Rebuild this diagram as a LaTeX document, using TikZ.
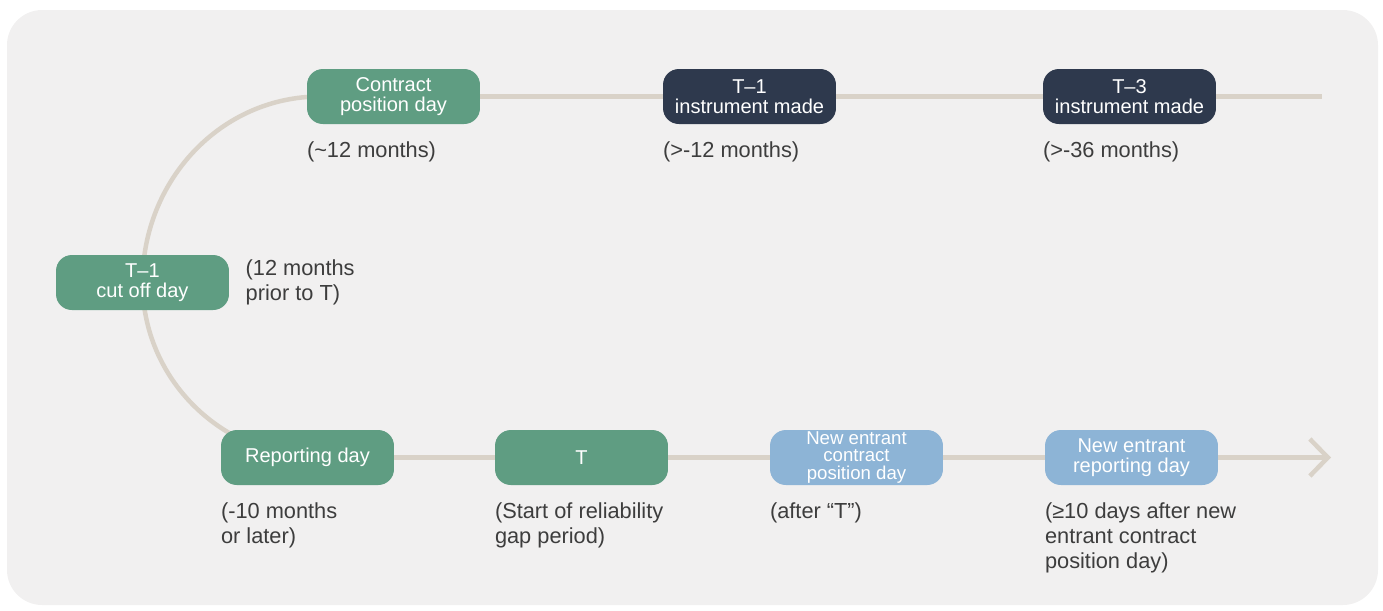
\documentclass[tikz,border=0pt]{standalone}
\usepackage{fontspec}
\setmainfont{Liberation Sans}
\usetikzlibrary{arrows.meta,positioning,backgrounds}
\definecolor{tlGreen}{HTML}{5F9D82}
\definecolor{tlNavy}{HTML}{2E394D}
\definecolor{tlBlue}{HTML}{8DB4D6}
\definecolor{tlTrack}{HTML}{D9D2C8}
\definecolor{tlPlate}{HTML}{F1F0F0}
\definecolor{tlText}{HTML}{3D3D3D}
\tikzset{
  track/.style={draw=tlTrack, line width=0.09cm},
  trackend/.style={track, -{Straight Barb[length=3.6mm,width=7.4mm]}},
  daybox/.style={rounded corners=9pt, minimum width=3.46cm, minimum height=1.1cm, inner sep=1pt, align=center, text=white, font=\fontsize{11.4}{11.6}\selectfont},
  greenbox/.style={daybox, fill=tlGreen},
  navybox/.style={daybox, fill=tlNavy},
  bluebox/.style={daybox, fill=tlBlue},
  note/.style={inner sep=0pt, align=left, text=tlText, font=\fontsize{12.4}{14.3}\selectfont},
  plate/.style={fill=tlPlate, rounded corners=20pt}
}

\begin{document}
\begin{tikzpicture}[x=0.02cm,y=-0.02cm]
  \useasboundingbox (0,0) rectangle (1383,610);
  % upper row
  \node[greenbox] (contract) at (393.5,96.5) {Contract\\position day};
  \node[navybox] (instA) at (749.5,96.5) {T--1\\instrument made};
  \node[navybox] (instB) at (1129.5,96.5) {T--3\\instrument made};
  \coordinate (topend) at (1322,96.5);
  % turning point
  \node[greenbox] (cutoff) at (142.5,282.5) {T--1\\cut off day};
  % lower row
  \node[greenbox] (reporting) at (307.5,457.5) {Reporting day};
  \node[greenbox] (gapstart) at (581.5,457.5) {T};
  \node[bluebox, inner sep=0pt, font=\fontsize{10.6}{10.1}\selectfont] (newcontract) at (856.5,457.5) {New entrant\\contract\\position day};
  \node[bluebox] (newreport) at (1131.5,457.5) {New entrant\\reporting day};
  \coordinate (botend) at (1331,457.5);
  % notes
  \node[note, below right=3.4mm and 0mm of contract.south west] (contractnote) {(\textasciitilde12 months)};
  \node[note, below right=3.4mm and 0mm of instA.south west] (instAnote) {(>-12 months)};
  \node[note, below right=3.4mm and 0mm of instB.south west] (instBnote) {(>-36 months)};
  \node[note, right=3.2mm of cutoff] (cutoffnote) {(12 months\\prior to T)};
  \node[note, below right=3.4mm and 0mm of reporting.south west] (reportingnote) {(-10 months\\or later)};
  \node[note, below right=3.4mm and 0mm of gapstart.south west] (gapnote) {(Start of reliability\\gap period)};
  \node[note, below right=3.4mm and 0mm of newcontract.south west] (newcontractnote) {(after “T”)};
  \node[note, below right=3.4mm and 0mm of newreport.south west] (newreportnote) {(≥10 days after new\\entrant contract\\position day)};
  \begin{scope}[on background layer]
    \path[plate] (7,10) rectangle (1378,605);
    \draw[track] (contract) -- (instA) -- (instB) -- (topend);
    \draw[track] (contract.center) -- ++(-73.5,0) .. controls +(-98.3,0) and +(0,-103) .. (cutoff.center) .. controls +(0,96.6) and +(-98.3,0) .. ++(177.5,175);
    \draw[trackend] (reporting) -- (gapstart) -- (newcontract) -- (newreport) -- (botend);
  \end{scope}
\end{tikzpicture}
\end{document}
